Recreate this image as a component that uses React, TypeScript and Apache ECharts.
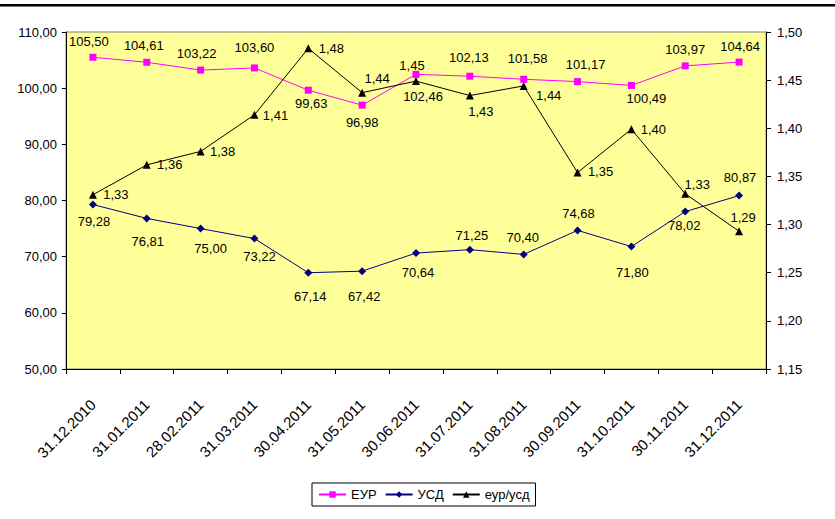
import React, { useEffect, useRef } from "react";
import * as echarts from "echarts";

const categories = [
  "31.12.2010", "31.01.2011", "28.02.2011", "31.03.2011", "30.04.2011", "31.05.2011",
  "30.06.2011", "31.07.2011", "31.08.2011", "30.09.2011", "31.10.2011", "30.11.2011", "31.12.2011",
];
const eurValues = [105.5, 104.61, 103.22, 103.6, 99.63, 96.98, 102.46, 102.13, 101.58, 101.17, 100.49, 103.97, 104.64];
const usdValues = [79.28, 76.81, 75.0, 73.22, 67.14, 67.42, 70.64, 71.25, 70.4, 74.68, 71.8, 78.02, 80.87];
const eurUsdValues = [1.331, 1.362, 1.376, 1.414, 1.483, 1.437, 1.449, 1.434, 1.444, 1.354, 1.399, 1.332, 1.293];

const seriesNames = ["ЕУР", "УСД", "еур/усд"];

// label offsets (dx, dy) relative to each marker
const eurLabelOffsets = [
  [-4, -16], [-3, -17], [-4, -17], [0, -20], [3, 13], [0, 17], [7, 22],
  [-1, -19], [4, -21], [8, -17], [15, 13], [0, -16], [1, -16],
];
const usdLabelOffsets = [
  [1, 17], [1, 23], [10, 20], [5, 18], [2, 24], [2, 25], [2, 19],
  [2, -14], [-1, -17], [1, -17], [1, 26], [-1, 14], [1, -18],
];
const eurUsdLabelOffsets = [
  [23, 0], [23, 0], [22, 0], [21, 1], [23, 0], [15, -14], [-4, -16],
  [11, 16], [25, 10], [23, -1], [22, 0], [12, -9], [4, -14],
];

const fmt = (v: number) => v.toFixed(2).replace(".", ",");
const FONT = "'Liberation Sans', Arial, sans-serif";

function buildData(values: number[], offsets: number[][]) {
  return values.map((v, i) => ({ value: v, label: { offset: offsets[i] } }));
}

export default function App() {
  const ref = useRef<HTMLDivElement>(null);
  useEffect(() => {
    if (!ref.current) return;
    const chart = echarts.init(ref.current, undefined, { renderer: "svg" });
    const labelBase = {
      show: true,
      position: "inside",
      color: "#000",
      fontSize: 13,
      fontFamily: FONT,
      formatter: (p: any) => fmt(p.value),
    };
    chart.setOption({
      animation: false,
      backgroundColor: "#ffffff",
      textStyle: { fontFamily: FONT },
      graphic: [
        { type: "rect", shape: { x: 0, y: 4, width: 835, height: 2.5 }, style: { fill: "#000" } },
      ],
      legend: {
        left: 312,
        top: 483,
        padding: [5, 6, 5, 6],
        itemGap: 8,
        itemWidth: 27,
        itemHeight: 8,
        borderColor: "#000",
        borderWidth: 1,
        textStyle: { color: "#000", fontSize: 13, fontFamily: FONT },
        data: seriesNames,
      },
      grid: {
        left: 66,
        top: 32,
        right: 69,
        bottom: 150,
        show: true,
        backgroundColor: "#FFFF99",
        borderColor: "#808080",
        borderWidth: 1,
      },
      xAxis: {
        type: "category",
        data: categories,
        boundaryGap: true,
        axisLine: { lineStyle: { color: "#000", width: 1 } },
        axisTick: { show: true, length: 5, lineStyle: { color: "#000" } },
        axisLabel: { rotate: 45, margin: 33, color: "#000", fontSize: 15, fontFamily: FONT, interval: 0 },
        splitLine: { show: false },
      },
      yAxis: [
        {
          type: "value",
          min: 50,
          max: 110,
          interval: 10,
          position: "left",
          axisLine: { show: true, lineStyle: { color: "#000", width: 1 } },
          axisTick: { show: true, length: 4, lineStyle: { color: "#000" } },
          axisLabel: { color: "#000", fontSize: 13, fontFamily: FONT, margin: 9, formatter: (v: number) => fmt(v) },
          splitLine: { show: false },
        },
        {
          type: "value",
          min: 1.15,
          max: 1.5,
          interval: 0.05,
          position: "right",
          axisLine: { show: true, lineStyle: { color: "#000", width: 1 } },
          axisTick: { show: true, length: 5, lineStyle: { color: "#000" } },
          axisLabel: { color: "#000", fontSize: 13, fontFamily: FONT, margin: 11, formatter: (v: number) => fmt(v) },
          splitLine: { show: false },
        },
      ],
      series: [
        {
          name: seriesNames[0],
          type: "line",
          yAxisIndex: 0,
          data: buildData(eurValues, eurLabelOffsets),
          symbol: "rect",
          symbolSize: 7,
          itemStyle: { color: "#FF00FF" },
          lineStyle: { color: "#FF00FF", width: 1 },
          label: labelBase,
        },
        {
          name: seriesNames[1],
          type: "line",
          yAxisIndex: 0,
          data: buildData(usdValues, usdLabelOffsets),
          symbol: "diamond",
          symbolSize: 8,
          itemStyle: { color: "#000080" },
          lineStyle: { color: "#000080", width: 1 },
          label: labelBase,
        },
        {
          name: seriesNames[2],
          type: "line",
          yAxisIndex: 1,
          data: buildData(eurUsdValues, eurUsdLabelOffsets),
          symbol: "triangle",
          symbolSize: 8,
          itemStyle: { color: "#000" },
          lineStyle: { color: "#000", width: 1 },
          label: labelBase,
        },
      ],
    });
    return () => chart.dispose();
  }, []);
  return (
    <div
      ref={ref}
      style={{ position: "absolute", left: 0, top: 0, width: 835, height: 519 }}
    />
  );
}
